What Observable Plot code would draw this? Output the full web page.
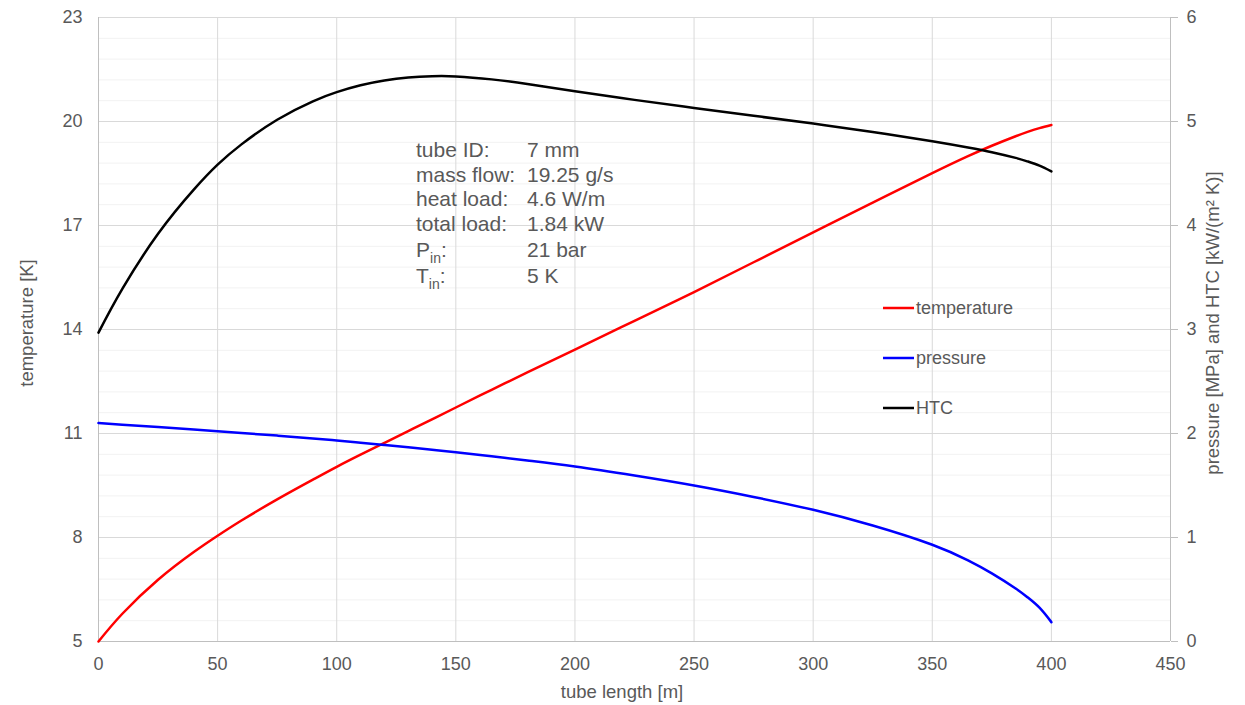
<!DOCTYPE html>
<html>
<head>
<meta charset="utf-8">
<script src="https://cdn.jsdelivr.net/npm/d3@7"></script>
<script src="https://cdn.jsdelivr.net/npm/@observablehq/plot@0.6"></script>
<style>
  html, body { margin: 0; padding: 0; background: #fff; }
  svg { display: block; }
</style>
</head>
<body>
<div id="chart"></div>
<script>
// ---- data ----
const tubeLength = [0, 10, 25, 40, 50, 60, 75, 90, 100, 110, 120, 130, 140, 150, 165, 180, 200, 225, 250, 275, 300, 325, 350, 365, 375, 385, 390, 395, 400];
const temperature = [5.0, 5.8, 6.78, 7.58, 8.05, 8.49, 9.1, 9.67, 10.04, 10.39, 10.73, 11.07, 11.41, 11.75, 12.26, 12.76, 13.42, 14.25, 15.08, 15.94, 16.8, 17.66, 18.51, 19.0, 19.3, 19.575, 19.7, 19.81, 19.9];
const pressure = [2.100, 2.085, 2.062, 2.038, 2.022, 2.005, 1.980, 1.952, 1.933, 1.912, 1.890, 1.867, 1.844, 1.820, 1.781, 1.740, 1.683, 1.596, 1.500, 1.390, 1.266, 1.115, 0.930, 0.780, 0.655, 0.510, 0.425, 0.325, 0.186];
const htc = [2.97, 3.39, 3.92, 4.345, 4.585, 4.78, 5.017, 5.194, 5.282, 5.348, 5.394, 5.422, 5.435, 5.433, 5.405, 5.36, 5.29, 5.208, 5.13, 5.055, 4.98, 4.90, 4.81, 4.75, 4.705, 4.65, 4.616, 4.575, 4.52];

const xTicks = [0, 50, 100, 150, 200, 250, 300, 350, 400, 450];
const leftTicks = [5, 8, 11, 14, 17, 20, 23];
const rightTicks = [0, 1, 2, 3, 4, 5, 6];
const seriesNames = ["temperature", "pressure", "HTC"];
const seriesColors = ["#ff0000", "#0000ff", "#000000"];
const infoLabels = ["tube ID:", "mass flow:", "heat load:", "total load:", "P", "T"];
const infoSubs = ["", "", "", "", "in", "in"];
const infoValues = ["7 mm", "19.25 g/s", "4.6 W/m", "1.84 kW", "21 bar", "5 K"];

// right axis (0..6) mapped onto left axis (5..23)
const rightToLeft = v => 5 + v * 3;
const leftToRight = v => (v - 5) / 3;

const rows = tubeLength.map((l, i) => ({len: l, temp: temperature[i], pres: pressure[i], htc: htc[i]}));

const minorY = d3.range(0, 31).map(i => 5 + i * 0.6);
const textColor = "#595959";
const font = "'Liberation Sans', Arial, Helvetica, sans-serif";

const W = 1245, H = 705, mL = 98, mR = 75, mT = 17, mB = 64;

const svg = Plot.plot({
  width: W, height: H,
  marginLeft: mL, marginRight: mR, marginTop: mT, marginBottom: mB,
  style: {fontFamily: font, fontSize: "18px", color: textColor, background: "#fff", overflow: "visible"},
  x: {domain: [0, 450]},
  y: {domain: [5, 23]},
  marks: [
    Plot.gridY(minorY, {stroke: "#f2f2f2", strokeOpacity: 1}),
    Plot.gridY(leftTicks, {stroke: "#d9d9d9", strokeOpacity: 1}),
    Plot.gridX(xTicks, {stroke: "#d9d9d9", strokeOpacity: 1}),
    Plot.ruleX([0, 450], {stroke: "#bfbfbf"}),
    Plot.ruleY([5], {stroke: "#bfbfbf"}),
    Plot.axisX(xTicks, {tickSize: 0, tickPadding: 16, label: null, fill: textColor}),
    Plot.axisY(leftTicks, {anchor: "left", tickSize: 0, tickPadding: 16, label: null, fill: textColor}),
    Plot.axisY(rightTicks.map(rightToLeft), {anchor: "right", tickSize: 7, tickPadding: 9, stroke: "#bfbfbf",
      tickFormat: d => String(leftToRight(d)), label: null, fill: textColor}),
    Plot.line(rows, {x: "len", y: "temp", stroke: seriesColors[0], strokeWidth: 2.5, curve: "natural"}),
    Plot.line(rows, {x: "len", y: d => rightToLeft(d.pres), stroke: seriesColors[1], strokeWidth: 2.5, curve: "natural"}),
    Plot.line(rows, {x: "len", y: d => rightToLeft(d.htc), stroke: seriesColors[2], strokeWidth: 2.5, curve: "natural"})
  ]
});

const s = d3.select(svg);
function addText(sel) {
  return sel.append("text").attr("fill", textColor).attr("font-family", font);
}
// axis titles
addText(s).attr("x", 622).attr("y", 698).attr("text-anchor", "middle")
  .attr("font-size", 18.5).text("tube length [m]");
addText(s).attr("transform", "translate(33,323) rotate(-90)").attr("text-anchor", "middle")
  .attr("font-size", 18.5).text("temperature [K]");
addText(s).attr("transform", "translate(1219,323) rotate(-90)").attr("text-anchor", "middle")
  .attr("font-size", 18.5).text("pressure [MPa] and HTC [kW/(m² K)]");

// legend
seriesNames.forEach((name, i) => {
  const y = 308 + i * 50;
  s.append("line").attr("x1", 883).attr("x2", 914).attr("y1", y).attr("y2", y)
    .attr("stroke", seriesColors[i]).attr("stroke-width", 2.5);
  addText(s).attr("x", 916).attr("y", y).attr("dy", "0.35em").attr("font-size", 18)
    .attr("text-anchor", "start").text(name);
});

// info block
const baselines = [157, 181.5, 206, 231, 257, 283];
infoLabels.forEach((lab, i) => {
  const t = addText(s).attr("x", 416).attr("y", baselines[i]).attr("font-size", 21)
    .attr("text-anchor", "start");
  t.append("tspan").text(lab);
  if (infoSubs[i]) {
    t.append("tspan").attr("font-size", 14).attr("dy", 6).text(infoSubs[i]);
    t.append("tspan").attr("dy", -6).text(":");
  }
  addText(s).attr("x", 527).attr("y", baselines[i]).attr("font-size", 21)
    .attr("text-anchor", "start").text(infoValues[i]);
});

document.getElementById("chart").appendChild(svg);
</script>
</body>
</html>
